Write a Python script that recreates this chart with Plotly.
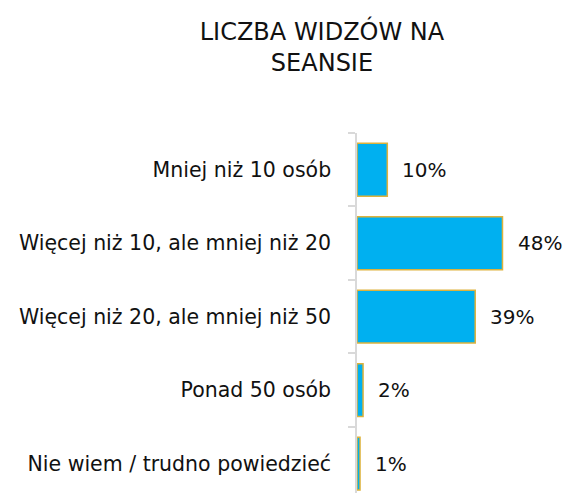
import plotly.graph_objects as go

categories = [
    "Mniej niż 10 osób",
    "Więcej niż 10, ale mniej niż 20",
    "Więcej niż 20, ale mniej niż 50",
    "Ponad 50 osób",
    "Nie wiem / trudno powiedzieć",
]
values = [10, 48, 39, 2, 1]
value_labels = ["10%", "48%", "39%", "2%", "1%"]
title_text = "LICZBA WIDZÓW NA<br>SEANSIE"

FONT = "DejaVu Sans"
TEXT = "#111111"

fig = go.Figure()
fig.add_trace(go.Bar(
    x=values,
    y=categories,
    orientation="h",
    marker=dict(color="#00B0F0", line=dict(color="#DDB23C", width=1.5)),
    hoverinfo="skip",
))

for c, v, lab in zip(categories, values, value_labels):
    fig.add_annotation(
        x=v, y=c, text=lab, showarrow=False,
        xanchor="left", yanchor="middle", xshift=13,
        font=dict(family=FONT, size=20, color=TEXT),
    )

fig.update_layout(
    width=563, height=485,
    margin=dict(l=349, r=0, t=125, b=0, autoexpand=False),
    paper_bgcolor="white", plot_bgcolor="white",
    bargap=0.28,
    showlegend=False,
    title=dict(
        text=title_text, xref="container", x=0.5577, xanchor="center",
        yref="container", y=0.934, yanchor="middle",
        font=dict(family=FONT, size=24, color=TEXT),
    ),
    font=dict(family=FONT, color=TEXT),
)
fig.update_xaxes(
    range=[0, 70.6], visible=False, showgrid=False, zeroline=False,
)
fig.update_yaxes(
    type="category", categoryorder="array", categoryarray=categories,
    range=[4.4, -0.5], automargin=False,
    showline=True, linecolor="#d9d9d9", linewidth=1.5,
    ticks="outside", tickson="boundaries", ticklen=7, tickcolor="#d9d9d9", tickwidth=1.5,
    ticklabelstandoff=20,
    tickfont=dict(family=FONT, size=20.5, color=TEXT),
    showgrid=False, zeroline=False,
)

fig.write_html("out.html")
